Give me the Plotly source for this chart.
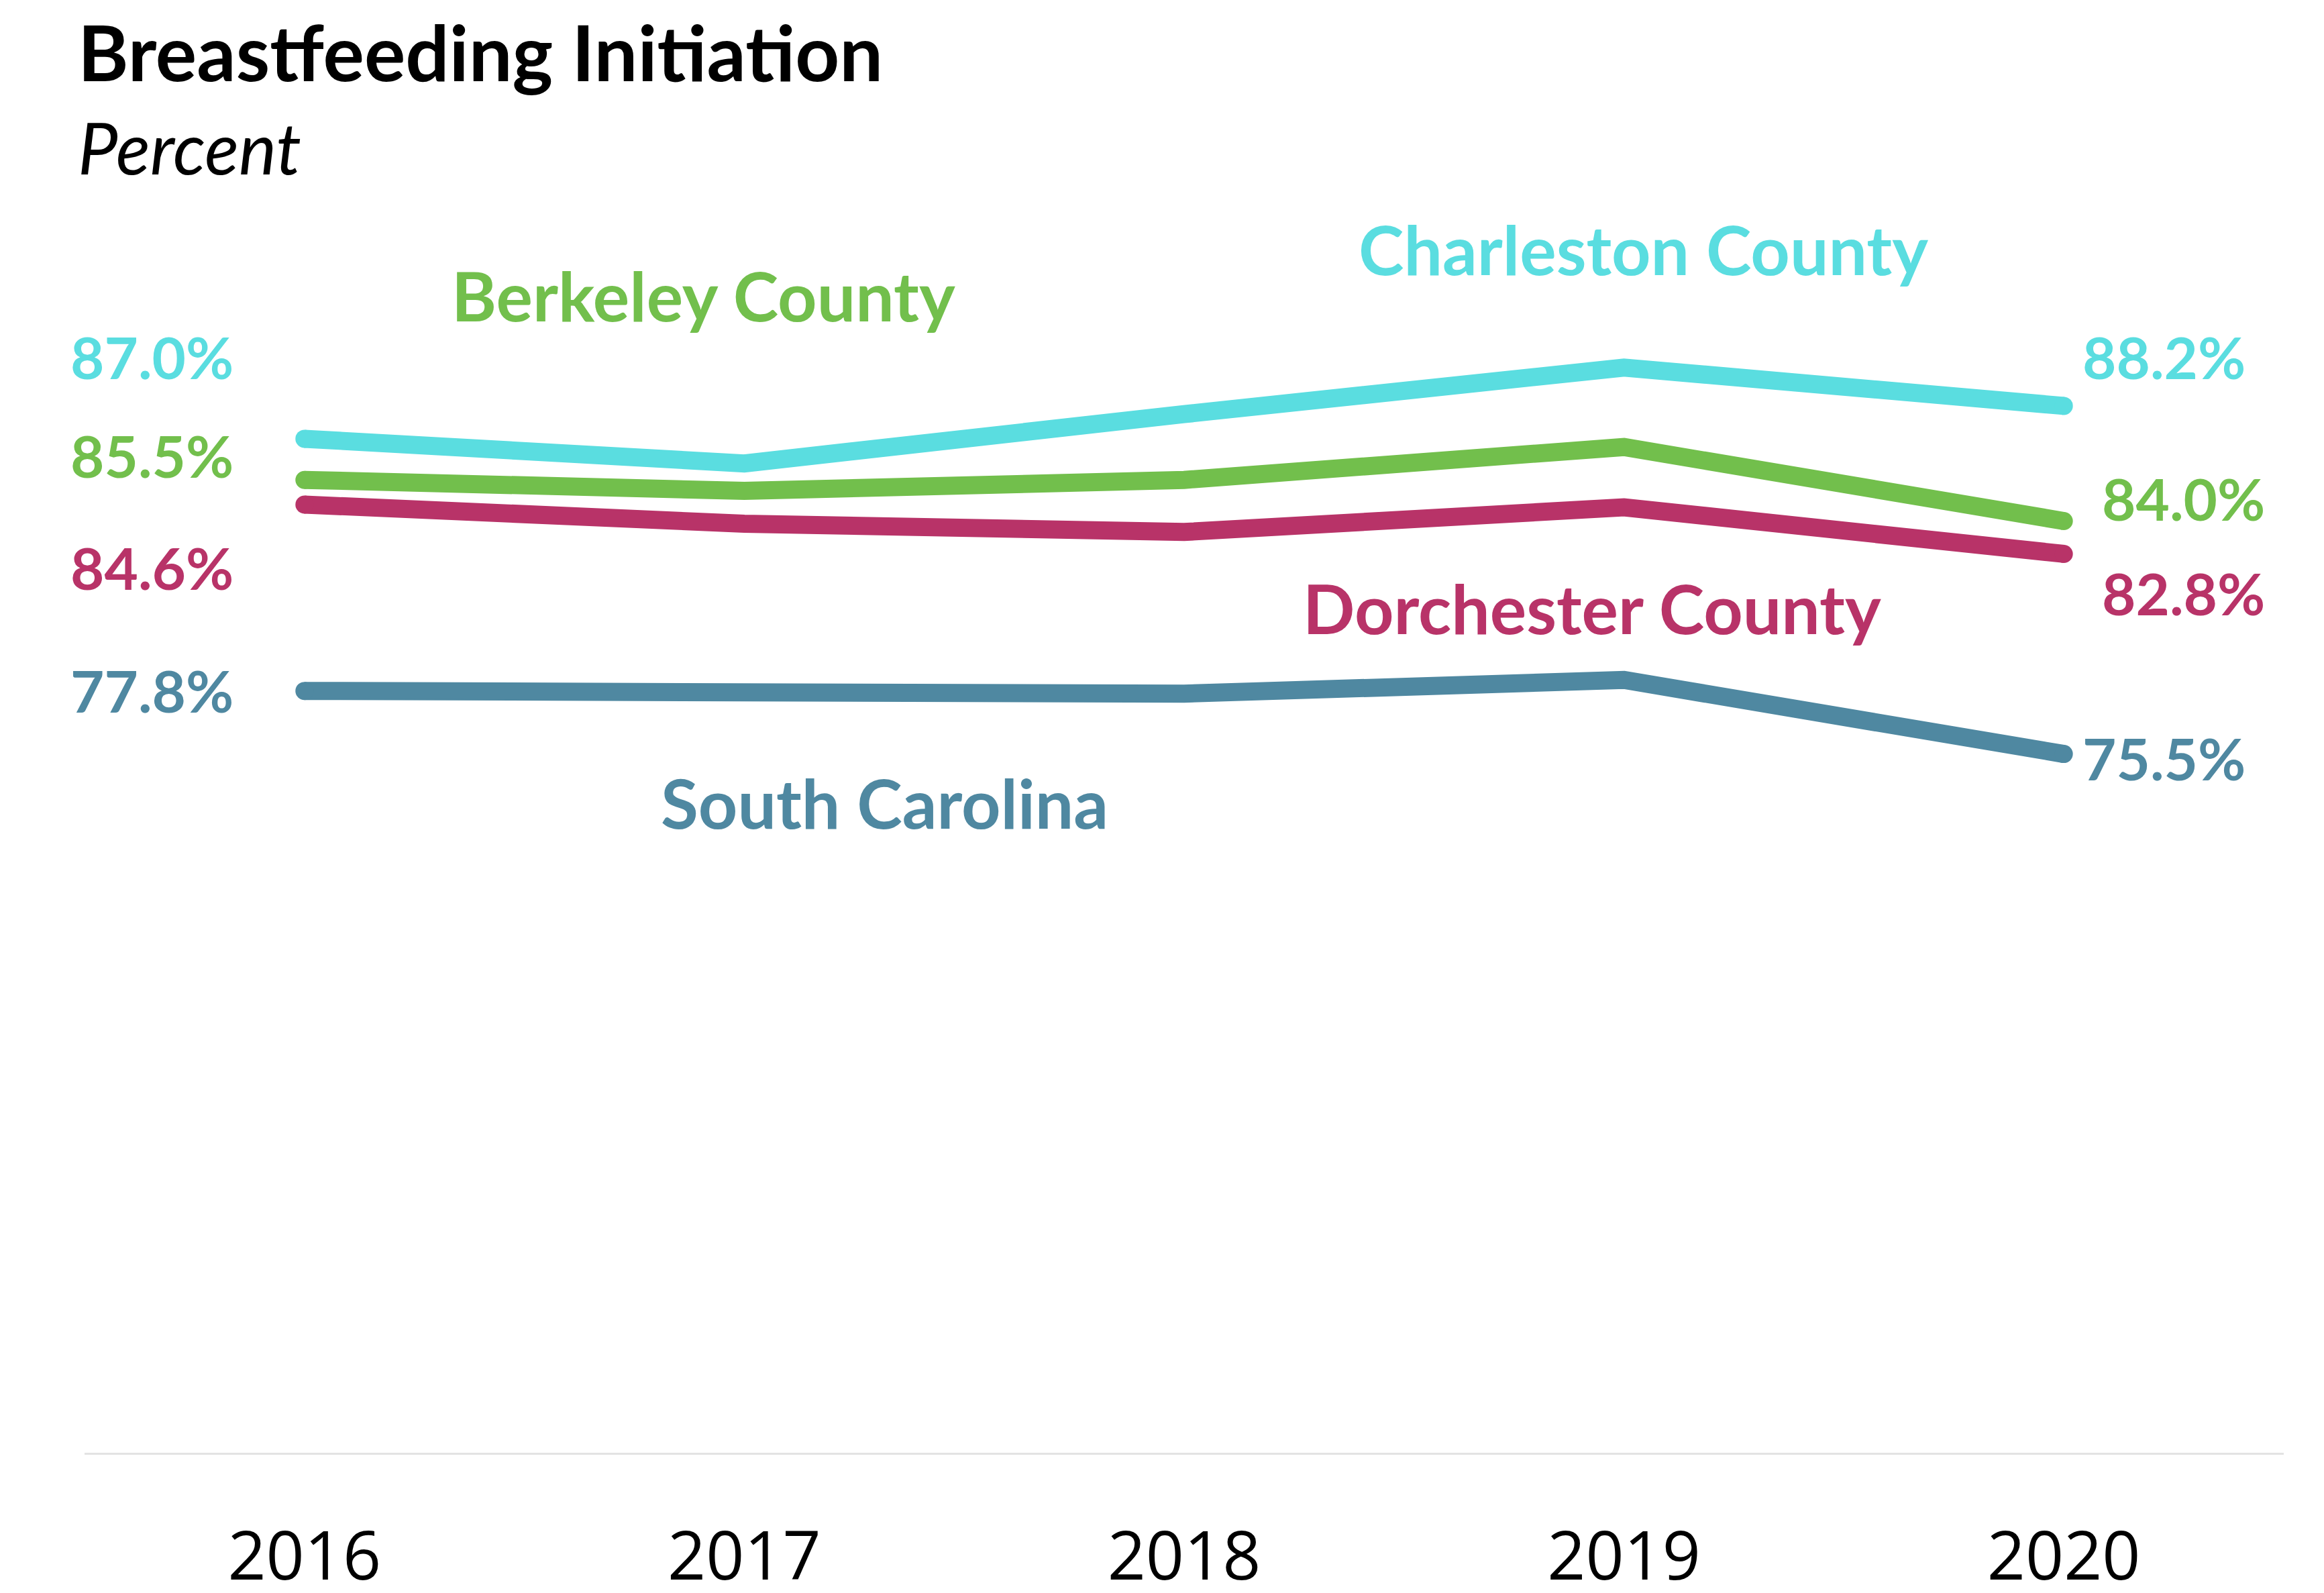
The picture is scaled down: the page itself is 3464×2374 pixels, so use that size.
import plotly.graph_objects as go

years = [2016, 2017, 2018, 2019, 2020]
year_labels = ["2016", "2017", "2018", "2019", "2020"]

series_names = ["Charleston County", "Berkeley County", "Dorchester County", "South Carolina"]
charleston = [87.0, 86.1, 87.9, 89.6, 88.2]
berkeley = [85.5, 85.1, 85.5, 86.7, 84.0]
dorchester = [84.6, 83.9, 83.6, 84.5, 82.8]
south_carolina = [77.8, 77.8, 77.7, 78.2, 75.5]

values = [charleston, berkeley, dorchester, south_carolina]
colors = ["#5ADDE0", "#72BF4C", "#B83368", "#4F88A1"]

# label placement (styling only)
left_shift = [(-104, 122), (-104, 37), (-104, -94), (-104, 1)]
right_shift = [(26, 73), (55, 34), (55, -58), (26, -6)]
name_pos = [(2019.044, 93.93), (2016.907, 92.24), (2018.928, 80.83), (2017.319, 73.75)]

LINE_W = 27
fig = go.Figure()
for name, vals, col in zip(series_names, values, colors):
    fig.add_trace(go.Scatter(
        x=years, y=vals, mode="lines+markers", name=name,
        line=dict(color=col, width=LINE_W),
        marker=dict(color=col, size=[LINE_W, 0, 0, 0, LINE_W], opacity=1, line=dict(width=0)),
        showlegend=False, hoverinfo="skip",
    ))

LBL_FONT = "Lato"
annotations = []
for i, (name, vals, col) in enumerate(zip(series_names, values, colors)):
    annotations.append(dict(
        x=years[0], y=vals[0], xref="x", yref="y", text=f"<b>{vals[0]:.1f}%</b>",
        showarrow=False, xanchor="right", yanchor="middle",
        xshift=left_shift[i][0], yshift=left_shift[i][1],
        font=dict(family=LBL_FONT, size=87, color=col)))
    annotations.append(dict(
        x=years[-1], y=vals[-1], xref="x", yref="y", text=f"<b>{vals[-1]:.1f}%</b>",
        showarrow=False, xanchor="left", yanchor="middle",
        xshift=right_shift[i][0], yshift=right_shift[i][1],
        font=dict(family=LBL_FONT, size=87, color=col)))
    annotations.append(dict(
        x=name_pos[i][0], y=name_pos[i][1], xref="x", yref="y", text=f"<b>{name}</b>",
        showarrow=False, xanchor="center", yanchor="middle",
        font=dict(family=LBL_FONT, size=102, color=col)))

annotations.append(dict(
    x=0, y=1.023, xref="paper", yref="paper", text="<b>Breastfeeding Initiation</b>",
    showarrow=False, xanchor="left", yanchor="middle", xshift=-12,
    font=dict(family=LBL_FONT, size=115, color="#000000")))
annotations.append(dict(
    x=0, y=0.953, xref="paper", yref="paper", text="<i>Percent</i>",
    showarrow=False, xanchor="left", yanchor="middle", xshift=-12,
    font=dict(family=LBL_FONT, size=106, color="#000000")))

fig.update_layout(
    width=3448, height=2358,
    margin=dict(l=118, r=52, t=115, b=201, pad=0, autoexpand=False),
    paper_bgcolor="white", plot_bgcolor="white",
    annotations=annotations,
    xaxis=dict(
        range=[2015.5, 2020.5], tickmode="array", tickvals=years, ticktext=year_labels,
        showgrid=False, zeroline=False, showline=True, linecolor="#E3E3E3", linewidth=3,
        ticks="outside", ticklen=66, tickcolor="rgba(0,0,0,0)", automargin=False,
        tickfont=dict(family="Open Sans", size=100, color="#000000"),
    ),
    yaxis=dict(range=[50, 100], visible=False, showgrid=False, zeroline=False, automargin=False),
)

fig.write_html("out.html")
